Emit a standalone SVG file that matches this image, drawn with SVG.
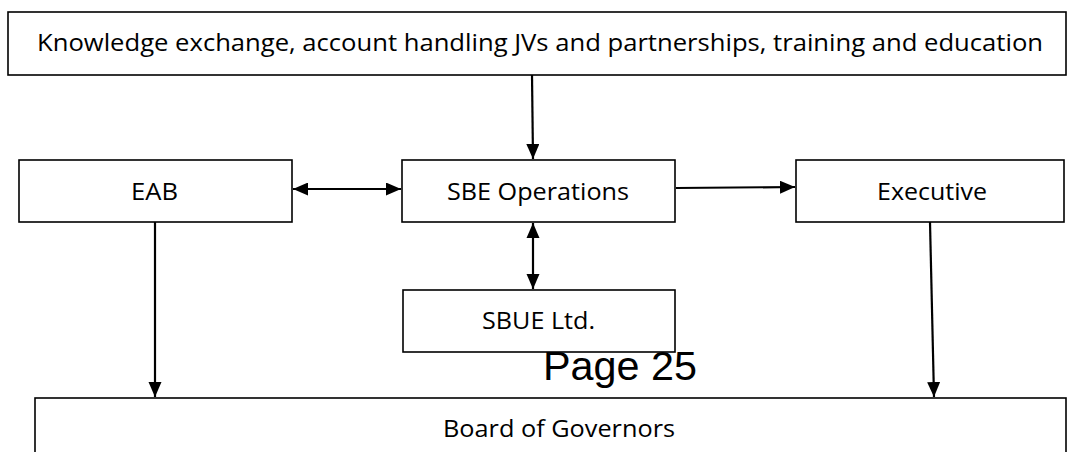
<svg xmlns="http://www.w3.org/2000/svg" width="1068" height="452" viewBox="0 0 1068 452">
  <style>
    .box { fill: #ffffff; stroke: #000000; stroke-width: 1.6; }
    .lbl { font-family: "Open Sans", "Liberation Sans", Arial, sans-serif; font-size: 24px; fill: #000000; }
    .edge { stroke: #000000; stroke-width: 2.2; fill: none; }
    .page { font-family: "Liberation Sans", Arial, sans-serif; font-size: 40px; fill: #000000; }
  </style>
  <defs>
    <marker id="head" markerUnits="userSpaceOnUse" markerWidth="16" markerHeight="14" refX="15" refY="6.5" orient="auto">
      <path d="M0,0 L15,6.5 L0,13 z" fill="#000000"/>
    </marker>
    <marker id="tail" markerUnits="userSpaceOnUse" markerWidth="16" markerHeight="14" refX="0" refY="6.5" orient="auto">
      <path d="M15,0 L0,6.5 L15,13 z" fill="#000000"/>
    </marker>
  </defs>

  <rect width="1068" height="452" fill="#ffffff"/>

  <g id="activities">
    <rect class="box" x="8" y="12" width="1058" height="63"/>
    <text class="lbl" x="37" y="51" textLength="1006" lengthAdjust="spacingAndGlyphs">Knowledge exchange, account handling JVs and partnerships, training and education</text>
  </g>

  <g id="eab">
    <rect class="box" x="19" y="160" width="273" height="62"/>
    <text class="lbl" x="131" y="200" textLength="47" lengthAdjust="spacingAndGlyphs">EAB</text>
  </g>

  <g id="sbe-operations">
    <rect class="box" x="402" y="160" width="273" height="62"/>
    <text class="lbl" x="447" y="200" textLength="182" lengthAdjust="spacingAndGlyphs">SBE Operations</text>
  </g>

  <g id="executive">
    <rect class="box" x="796" y="160" width="268" height="62"/>
    <text class="lbl" x="877" y="200" textLength="110" lengthAdjust="spacingAndGlyphs">Executive</text>
  </g>

  <g id="sbue">
    <rect class="box" x="403" y="290" width="272" height="62"/>
    <text class="lbl" x="482" y="329" textLength="113" lengthAdjust="spacingAndGlyphs">SBUE Ltd.</text>
  </g>

  <g id="board">
    <rect class="box" x="35" y="398" width="1031" height="70"/>
    <text class="lbl" x="443" y="437" textLength="232" lengthAdjust="spacingAndGlyphs">Board of Governors</text>
  </g>

  <text class="page" x="543" y="380" textLength="154" lengthAdjust="spacingAndGlyphs">Page 25</text>

  <g id="connectors">
    <line class="edge" x1="532" y1="75" x2="533" y2="159" marker-end="url(#head)"/>
    <line class="edge" x1="293" y1="189" x2="401" y2="189" marker-start="url(#tail)" marker-end="url(#head)"/>
    <line class="edge" x1="676" y1="188" x2="795" y2="187" marker-end="url(#head)"/>
    <line class="edge" x1="533" y1="223" x2="533" y2="289" marker-start="url(#tail)" marker-end="url(#head)"/>
    <line class="edge" x1="155" y1="222" x2="155" y2="397" marker-end="url(#head)"/>
    <line class="edge" x1="930" y1="222" x2="934" y2="397" marker-end="url(#head)"/>
  </g>
</svg>
